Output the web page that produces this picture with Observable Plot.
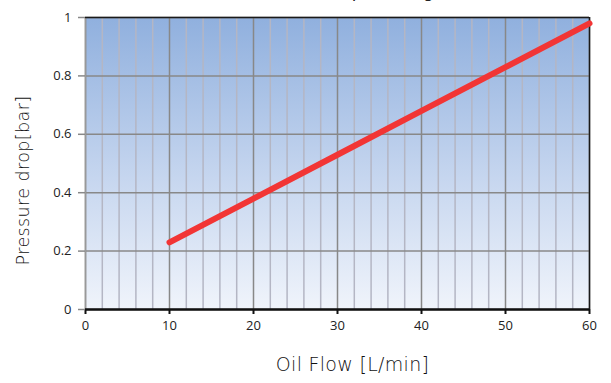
<!DOCTYPE html>
<html>
<head>
<meta charset="utf-8">
<script src="https://cdn.jsdelivr.net/npm/d3@7"></script>
<script src="https://cdn.jsdelivr.net/npm/@observablehq/plot@0.6"></script>
<style>
  html, body { margin: 0; padding: 0; background: #fff; }
  svg { display: block; }
  .x-title text { letter-spacing: 0.3px; }
  .y-title text { letter-spacing: 0.4px; }
</style>
</head>
<body>
<div id="chart"></div>
<script>
const title = "Pressure drop (Average flow test)";
const xLabel = "Oil Flow [L/min]";
const yLabel = "Pressure drop[bar]";
const flow = [10, 20, 30, 40, 50, 60];
const pressure = [0.23, 0.38, 0.53, 0.68, 0.83, 0.98];
const xTicks = [0, 10, 20, 30, 40, 50, 60];
const xMinor = [2, 4, 6, 8, 12, 14, 16, 18, 22, 24, 26, 28, 32, 34, 36, 38, 42, 44, 46, 48, 52, 54, 56, 58];
const yTicks = [0, 0.2, 0.4, 0.6, 0.8, 1];

const data = flow.map((f, i) => ({flow: f, pressure: pressure[i]}));
const font = "'Open Sans', 'DejaVu Sans', sans-serif";
const labelFont = "'DejaVu Sans', sans-serif";

const defs = () => {
  const g = d3.create("svg:defs");
  const lg = g.append("linearGradient").attr("id", "bg").attr("x1", 0).attr("x2", 0).attr("y1", 0).attr("y2", 1);
  lg.append("stop").attr("offset", "0%").attr("stop-color", "#90b0de");
  lg.append("stop").attr("offset", "55%").attr("stop-color", "#c6d6ef");
  lg.append("stop").attr("offset", "100%").attr("stop-color", "#f0f4fb");
  return g.node();
};

const chart = Plot.plot({
  width: 611,
  height: 383,
  marginLeft: 85,
  marginRight: 22,
  marginTop: 17,
  marginBottom: 74,
  style: {fontFamily: font, fontSize: "13px", color: "#222", background: "#fff"},
  x: {domain: [0, 60]},
  y: {domain: [0, 1]},
  marks: [
    defs,
    Plot.frame({fill: "url(#bg)", stroke: null}),
    Plot.ruleX(xMinor, {stroke: "#b4b6c4", strokeWidth: 1.5}),
    Plot.ruleX(xTicks, {stroke: "#888888", strokeWidth: 1.5}),
    Plot.ruleY(yTicks, {stroke: "#888888", strokeWidth: 1.5}),
    Plot.ruleX([0], {stroke: "#999999", strokeWidth: 1.5}),
    Plot.ruleY([1], {stroke: "#1a1a1a", strokeWidth: 1.5}),
    Plot.ruleX([60], {stroke: "#1a1a1a", strokeWidth: 1.5}),
    Plot.axisX(xTicks, {tickSize: 5, tickPadding: 6, stroke: "#111", strokeWidth: 2, label: null, fontSize: 13}),
    Plot.axisY(yTicks, {tickSize: 7, tickPadding: 7, stroke: "#888", strokeWidth: 1.5, label: null, fontSize: 13, tickFormat: d => String(d)}),
    Plot.ruleY([0], {stroke: "#111", strokeWidth: 2.5}),
    Plot.line(data, {x: "flow", y: "pressure", stroke: "#f23535", strokeWidth: 6, strokeLinecap: "round"}),
    Plot.text([xLabel], {className: "x-title", frameAnchor: "bottom", dy: 61, dx: 15, fontSize: 19, fontFamily: labelFont, fontWeight: 300, fill: "#111"}),
    Plot.text([yLabel], {className: "y-title", frameAnchor: "left", textAnchor: "middle", rotate: -90, dx: -62, dy: 17, fontSize: 17.5, fontFamily: labelFont, fontWeight: 300, fill: "#111"}),
    Plot.text([title], {frameAnchor: "top-right", textAnchor: "end", lineAnchor: "bottom", dx: -60, dy: -21, fontSize: 17, fontFamily: labelFont, fill: "#222"})
  ]
});
document.getElementById("chart").appendChild(chart);
</script>
</body>
</html>
